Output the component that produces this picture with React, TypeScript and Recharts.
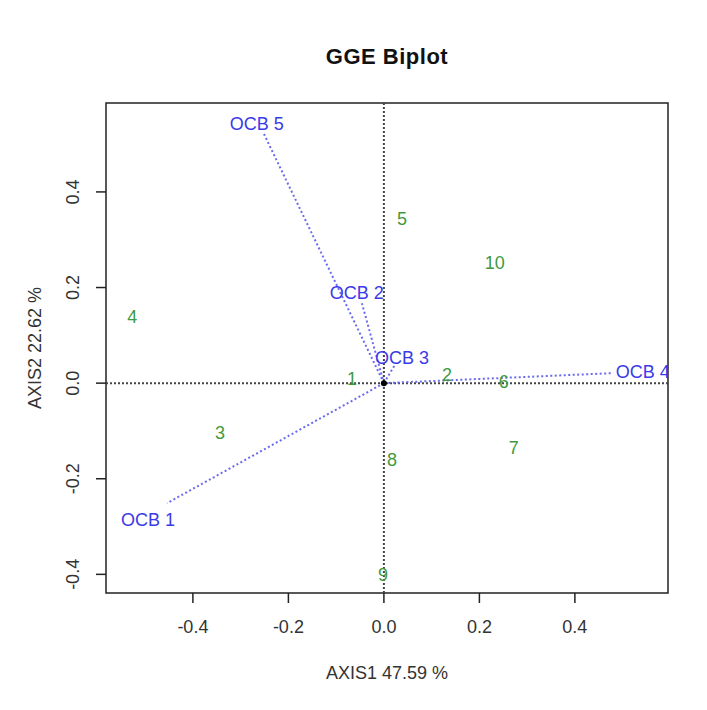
import React from 'react';
import { ScatterChart, Scatter, XAxis, YAxis, ReferenceLine, ReferenceArea } from 'recharts';

// Genotypes (green numbers)
const genotypeLabels = ['1', '2', '3', '4', '5', '6', '7', '8', '9', '10'];
const genotypeAxis1 = [-0.067, 0.132, -0.343, -0.527, 0.038, 0.251, 0.272, 0.017, -0.002, 0.232];
const genotypeAxis2 = [0.008, 0.017, -0.105, 0.138, 0.343, 0.002, -0.136, -0.16, -0.402, 0.251];

// Environments (blue labels) and the tips of their dotted vectors
const envLabels = ['OCB 1', 'OCB 2', 'OCB 3', 'OCB 4', 'OCB 5'];
const envAxis1 = [-0.494, -0.057, 0.038, 0.542, -0.266];
const envAxis2 = [-0.287, 0.188, 0.052, 0.023, 0.542];
const vectorTipAxis1 = [-0.454, -0.046, 0.023, 0.48, -0.253];
const vectorTipAxis2 = [-0.251, 0.167, 0.038, 0.021, 0.525];

const xTicks = [-0.4, -0.2, 0.0, 0.2, 0.4];
const yTicks = [-0.4, -0.2, 0.0, 0.2, 0.4];
const xDomain: [number, number] = [-0.582, 0.595];
const yDomain: [number, number] = [-0.439, 0.586];

const chartTitle = 'GGE Biplot';
const xTitle = 'AXIS1 47.59 %';
const yTitle = 'AXIS2 22.62 %';

const GREEN = '#3f9a3f';
const BLUE = '#3a3ae8';
const VEC = '#6a6af0';
const FONT = '"Liberation Sans", Arial, sans-serif';

const genotypeData = genotypeLabels.map((label, i) => ({ label, x: genotypeAxis1[i], y: genotypeAxis2[i] }));
const envData = envLabels.map((label, i) => ({ label, x: envAxis1[i], y: envAxis2[i] }));
const vectors = envLabels.map((label, i) => [
  { x: 0, y: 0 },
  { x: vectorTipAxis1[i], y: vectorTipAxis2[i] },
]);

const XTick = (props: any) => {
  const { x, y, payload } = props;
  return (
    <text x={x} y={y + 24} textAnchor="middle" dominantBaseline="central" fontSize={18} fontFamily={FONT} fill="#333">
      {Number(payload.value).toFixed(1)}
    </text>
  );
};

const YTick = (props: any) => {
  const { y, payload } = props;
  const cx = 73;
  return (
    <text x={cx} y={y} transform={`rotate(-90 ${cx} ${y})`} textAnchor="middle" dominantBaseline="central" fontSize={18} fontFamily={FONT} fill="#333">
      {Number(payload.value).toFixed(1)}
    </text>
  );
};

const GenoShape = (props: any) => (
  <text x={props.cx} y={props.cy} textAnchor="middle" dominantBaseline="central" fontSize={18} fontFamily={FONT} fill={GREEN}>
    {props.payload.label}
  </text>
);

const EnvShape = (props: any) => (
  <text x={props.cx} y={props.cy} textAnchor="middle" dominantBaseline="central" fontSize={18} fontFamily={FONT} fill={BLUE}>
    {props.payload.label}
  </text>
);

const NoShape = () => <g />;

const OriginShape = (props: any) => <circle cx={props.cx} cy={props.cy} r={3} fill="#000" />;

export default function App() {
  return (
    <div style={{ position: 'absolute', left: 0, top: 0, width: 707, height: 710, background: '#fff' }}>
      <div
        style={{
          position: 'absolute',
          left: 267,
          top: 44,
          width: 240,
          textAlign: 'center',
          fontFamily: FONT,
          fontWeight: 'bold',
          fontSize: 22,
          lineHeight: '26px',
          letterSpacing: '0.5px',
          color: '#111',
        }}
      >
        {chartTitle}
      </div>
      <ScatterChart width={707} height={710} margin={{ top: 103, right: 39, bottom: 57, left: 36 }}>
        <XAxis
          type="number"
          dataKey="x"
          domain={xDomain}
          ticks={xTicks}
          allowDataOverflow
          axisLine={false}
          tickLine={{ stroke: '#222', strokeWidth: 1.5 }}
          tickSize={10}
          tickMargin={0}
          height={60}
          tick={<XTick />}
          label={{
            content: () => (
              <text x={387} y={673} textAnchor="middle" dominantBaseline="central" fontSize={18} fontFamily={FONT} fill="#333">
                {xTitle}
              </text>
            ),
          }}
        />
        <YAxis
          type="number"
          dataKey="y"
          domain={yDomain}
          ticks={yTicks}
          allowDataOverflow
          axisLine={false}
          tickLine={{ stroke: '#222', strokeWidth: 1.5 }}
          tickSize={10}
          tickMargin={0}
          width={70}
          tick={<YTick />}
          label={{
            content: () => (
              <text x={35} y={348} transform="rotate(-90 35 348)" textAnchor="middle" dominantBaseline="central" fontSize={18} fontFamily={FONT} fill="#333">
                {yTitle}
              </text>
            ),
          }}
        />
        <ReferenceLine x={0} stroke="#444" strokeWidth={2} strokeDasharray="2 2" />
        <ReferenceLine y={0} stroke="#444" strokeWidth={2} strokeDasharray="2 2" />
        {vectors.map((v, i) => (
          <Scatter
            key={envLabels[i]}
            data={v}
            line={{ stroke: VEC, strokeWidth: 2, strokeDasharray: '2 2.5' }}
            shape={<NoShape />}
            isAnimationActive={false}
          />
        ))}
        <Scatter data={[{ x: 0, y: 0 }]} shape={<OriginShape />} isAnimationActive={false} />
        <Scatter data={genotypeData} shape={<GenoShape />} isAnimationActive={false} />
        <Scatter data={envData} shape={<EnvShape />} isAnimationActive={false} />
        <ReferenceArea
          x1={xDomain[0]}
          x2={xDomain[1]}
          y1={yDomain[0]}
          y2={yDomain[1]}
          fill="none"
          fillOpacity={0}
          stroke="#222"
          strokeWidth={1.5}
          ifOverflow="visible"
        />
      </ScatterChart>
    </div>
  );
}
